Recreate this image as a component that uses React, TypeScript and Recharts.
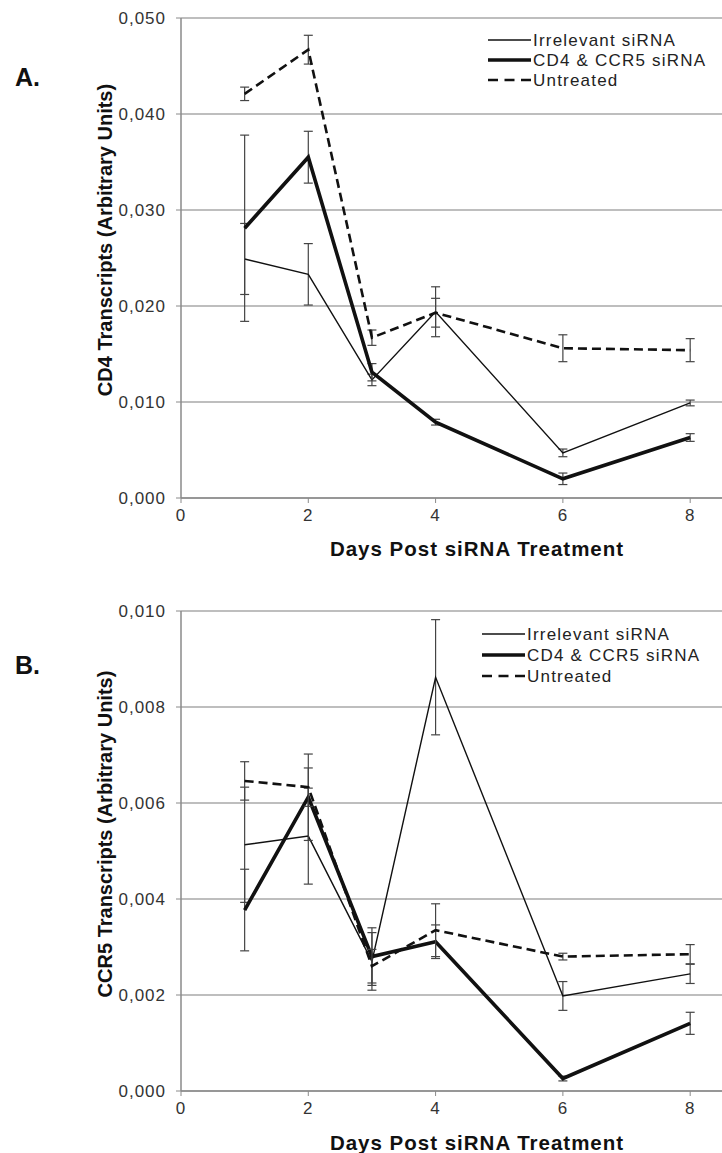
import React from 'react';
import { LineChart, Line, XAxis, YAxis, CartesianGrid, ErrorBar, Legend } from 'recharts';

// ---------- data ----------
const days = [1, 2, 3, 4, 6, 8];
const xTicks = [0, 2, 4, 6, 8];

// Panel A: CD4 transcripts
const cd4Irrelevant = [0.0249, 0.0233, 0.0123, 0.0194, 0.0047, 0.0099];
const cd4IrrelevantErr = [0.0037, 0.0032, 0.0006, 0.0026, 0.0004, 0.0003];
const cd4Knockdown = [0.0281, 0.0355, 0.0131, 0.0079, 0.0020, 0.0063];
const cd4KnockdownErr = [0.0097, 0.0027, 0.0009, 0.0003, 0.0006, 0.0004];
const cd4Untreated = [0.0421, 0.0467, 0.0167, 0.0193, 0.0156, 0.0154];
const cd4UntreatedErr = [0.0007, 0.0015, 0.0008, 0.0015, 0.0014, 0.0012];
const cd4Ticks = [0, 0.01, 0.02, 0.03, 0.04, 0.05];

// Panel B: CCR5 transcripts
const ccr5Irrelevant = [0.00513, 0.00531, 0.0027, 0.00862, 0.00198, 0.00244];
const ccr5IrrelevantErr = [0.0012, 0.001, 0.0006, 0.0012, 0.0003, 0.0002];
const ccr5Knockdown = [0.00377, 0.00612, 0.0028, 0.00311, 0.00026, 0.00141];
const ccr5KnockdownErr = [0.00085, 0.0009, 0.0006, 0.00035, 0.00005, 0.00023];
const ccr5Untreated = [0.00646, 0.00633, 0.0026, 0.00335, 0.0028, 0.00285];
const ccr5UntreatedErr = [0.0004, 0.0004, 0.00035, 0.00055, 0.00007, 0.0002];
const ccr5Ticks = [0, 0.002, 0.004, 0.006, 0.008, 0.01];

const seriesNames = ['Irrelevant siRNA', 'CD4 & CCR5 siRNA', 'Untreated'];
const xTitle = 'Days Post siRNA Treatment';

// ---------- styles ----------
const FONT = '"Liberation Sans", Arial, Helvetica, sans-serif';
const INK = '#111';
const series = [
  { key: 'irr', name: seriesNames[0], width: 1.4, dash: undefined as string | undefined, legendDash: undefined as string | undefined },
  { key: 'cd', name: seriesNames[1], width: 3.6, dash: undefined, legendDash: undefined },
  { key: 'unt', name: seriesNames[2], width: 2.6, dash: '9 5', legendDash: '10 6.5' },
];

function buildRows(irr: number[], irrE: number[], cd: number[], cdE: number[], unt: number[], untE: number[]) {
  return days.map((d, i) => ({
    day: d,
    irr: irr[i], irrErr: irrE[i],
    cd: cd[i], cdErr: cdE[i],
    unt: unt[i], untErr: untE[i],
  }));
}

const dataA = buildRows(cd4Irrelevant, cd4IrrelevantErr, cd4Knockdown, cd4KnockdownErr, cd4Untreated, cd4UntreatedErr);
const dataB = buildRows(ccr5Irrelevant, ccr5IrrelevantErr, ccr5Knockdown, ccr5KnockdownErr, ccr5Untreated, ccr5UntreatedErr);

const fmt = (v: number) => v.toFixed(3).replace('.', ',');

const tickStyle = { fill: '#333', fontSize: 17, fontFamily: FONT, letterSpacing: 1 };

function makeLegend(pitch: number) {
  return () => (
    <svg width={240} height={66} style={{ display: 'block' }}>
      {series.map((s, i) => {
        const y = 10 + i * pitch;
        return (
          <g key={s.key}>
            <line x1={0} x2={43} y1={y} y2={y} stroke={INK} strokeWidth={s.width} strokeDasharray={s.legendDash} />
            <text x={45} y={y} dominantBaseline="central" fontSize={17} letterSpacing={1.2} fontFamily={FONT} fill="#222">
              {s.name}
            </text>
          </g>
        );
      })}
    </svg>
  );
}

type PanelProps = {
  top: number;
  height: number;
  data: any[];
  yMax: number;
  yTicks: number[];
  yLabel: string;
  yLabelCy: number;
  letter: string;
  letterY: number;
  titleY: number;
  legendLeft: number;
  legendTop: number;
  legendPitch: number;
};

function Panel(p: PanelProps) {
  const yLabelRender = () => (
    <g>
      <text
        transform={`translate(105 ${p.yLabelCy}) rotate(-90)`}
        textAnchor="middle"
        dominantBaseline="central"
        fontSize={20}
        fontWeight="bold"
        fontFamily={FONT}
        fill={INK}
      >
        {p.yLabel}
      </text>
      <text x={15} y={p.letterY} dominantBaseline="central" fontSize={25} fontWeight="bold" fontFamily={FONT} fill={INK}>
        {p.letter}
      </text>
    </g>
  );
  const xLabelRender = () => (
    <text x={477} y={p.titleY} textAnchor="middle" dominantBaseline="central" fontSize={20.5} fontWeight="bold"
      letterSpacing={1} fontFamily={FONT} fill={INK}>
      {xTitle}
    </text>
  );
  return (
    <div style={{ position: 'absolute', left: 0, top: p.top, width: 722, height: p.height }}>
      <LineChart width={722} height={p.height} data={p.data}
        margin={{ top: 18, right: 0, bottom: p.height - 18 - 480 - 30, left: 101 }}>
        <CartesianGrid horizontal vertical={false} stroke="#a8a8a8" strokeWidth={1.5} />
        <XAxis type="number" dataKey="day" domain={[0, 8.5]} ticks={xTicks} allowDataOverflow
          axisLine={{ stroke: '#8a8a8a', strokeWidth: 1.5 }} tickLine={{ stroke: '#8a8a8a' }} tickSize={5} tickMargin={6}
          tick={tickStyle} height={30} label={xLabelRender} />
        <YAxis type="number" domain={[0, p.yMax]} ticks={p.yTicks} tickFormatter={fmt} width={80}
          axisLine={{ stroke: '#8a8a8a', strokeWidth: 1.5 }} tickLine={{ stroke: '#8a8a8a' }} tickSize={5} tickMargin={10}
          tick={tickStyle} label={yLabelRender} />
        <Legend layout="vertical" align="center" verticalAlign="middle" content={makeLegend(p.legendPitch)}
          wrapperStyle={{ position: 'absolute', left: p.legendLeft, top: p.legendTop, width: 240, height: 66 }} />
        {series.map((s) => (
          <Line key={s.key} type="linear" dataKey={s.key} name={s.name} stroke={INK} strokeWidth={s.width}
            strokeDasharray={s.dash} dot={false} activeDot={false} isAnimationActive={false}>
            <ErrorBar dataKey={`${s.key}Err`} width={4.5} stroke="#444" strokeWidth={1.2} direction="y" />
          </Line>
        ))}
      </LineChart>
    </div>
  );
}

export default function App() {
  return (
    <div style={{ position: 'absolute', left: 0, top: 0, width: 722, height: 1153, background: '#fff', overflow: 'hidden' }}>
      <Panel top={0} height={576} data={dataA} yMax={0.05} yTicks={cd4Ticks}
        yLabel="CD4 Transcripts (Arbitrary Units)" yLabelCy={240} letter="A." letterY={77} titleY={548}
        legendLeft={488} legendTop={30} legendPitch={20} />
      <Panel top={593} height={560} data={dataB} yMax={0.01} yTicks={ccr5Ticks}
        yLabel="CCR5 Transcripts (Arbitrary Units)" yLabelCy={241} letter="B." letterY={72} titleY={549}
        legendLeft={482} legendTop={31} legendPitch={21} />
    </div>
  );
}
